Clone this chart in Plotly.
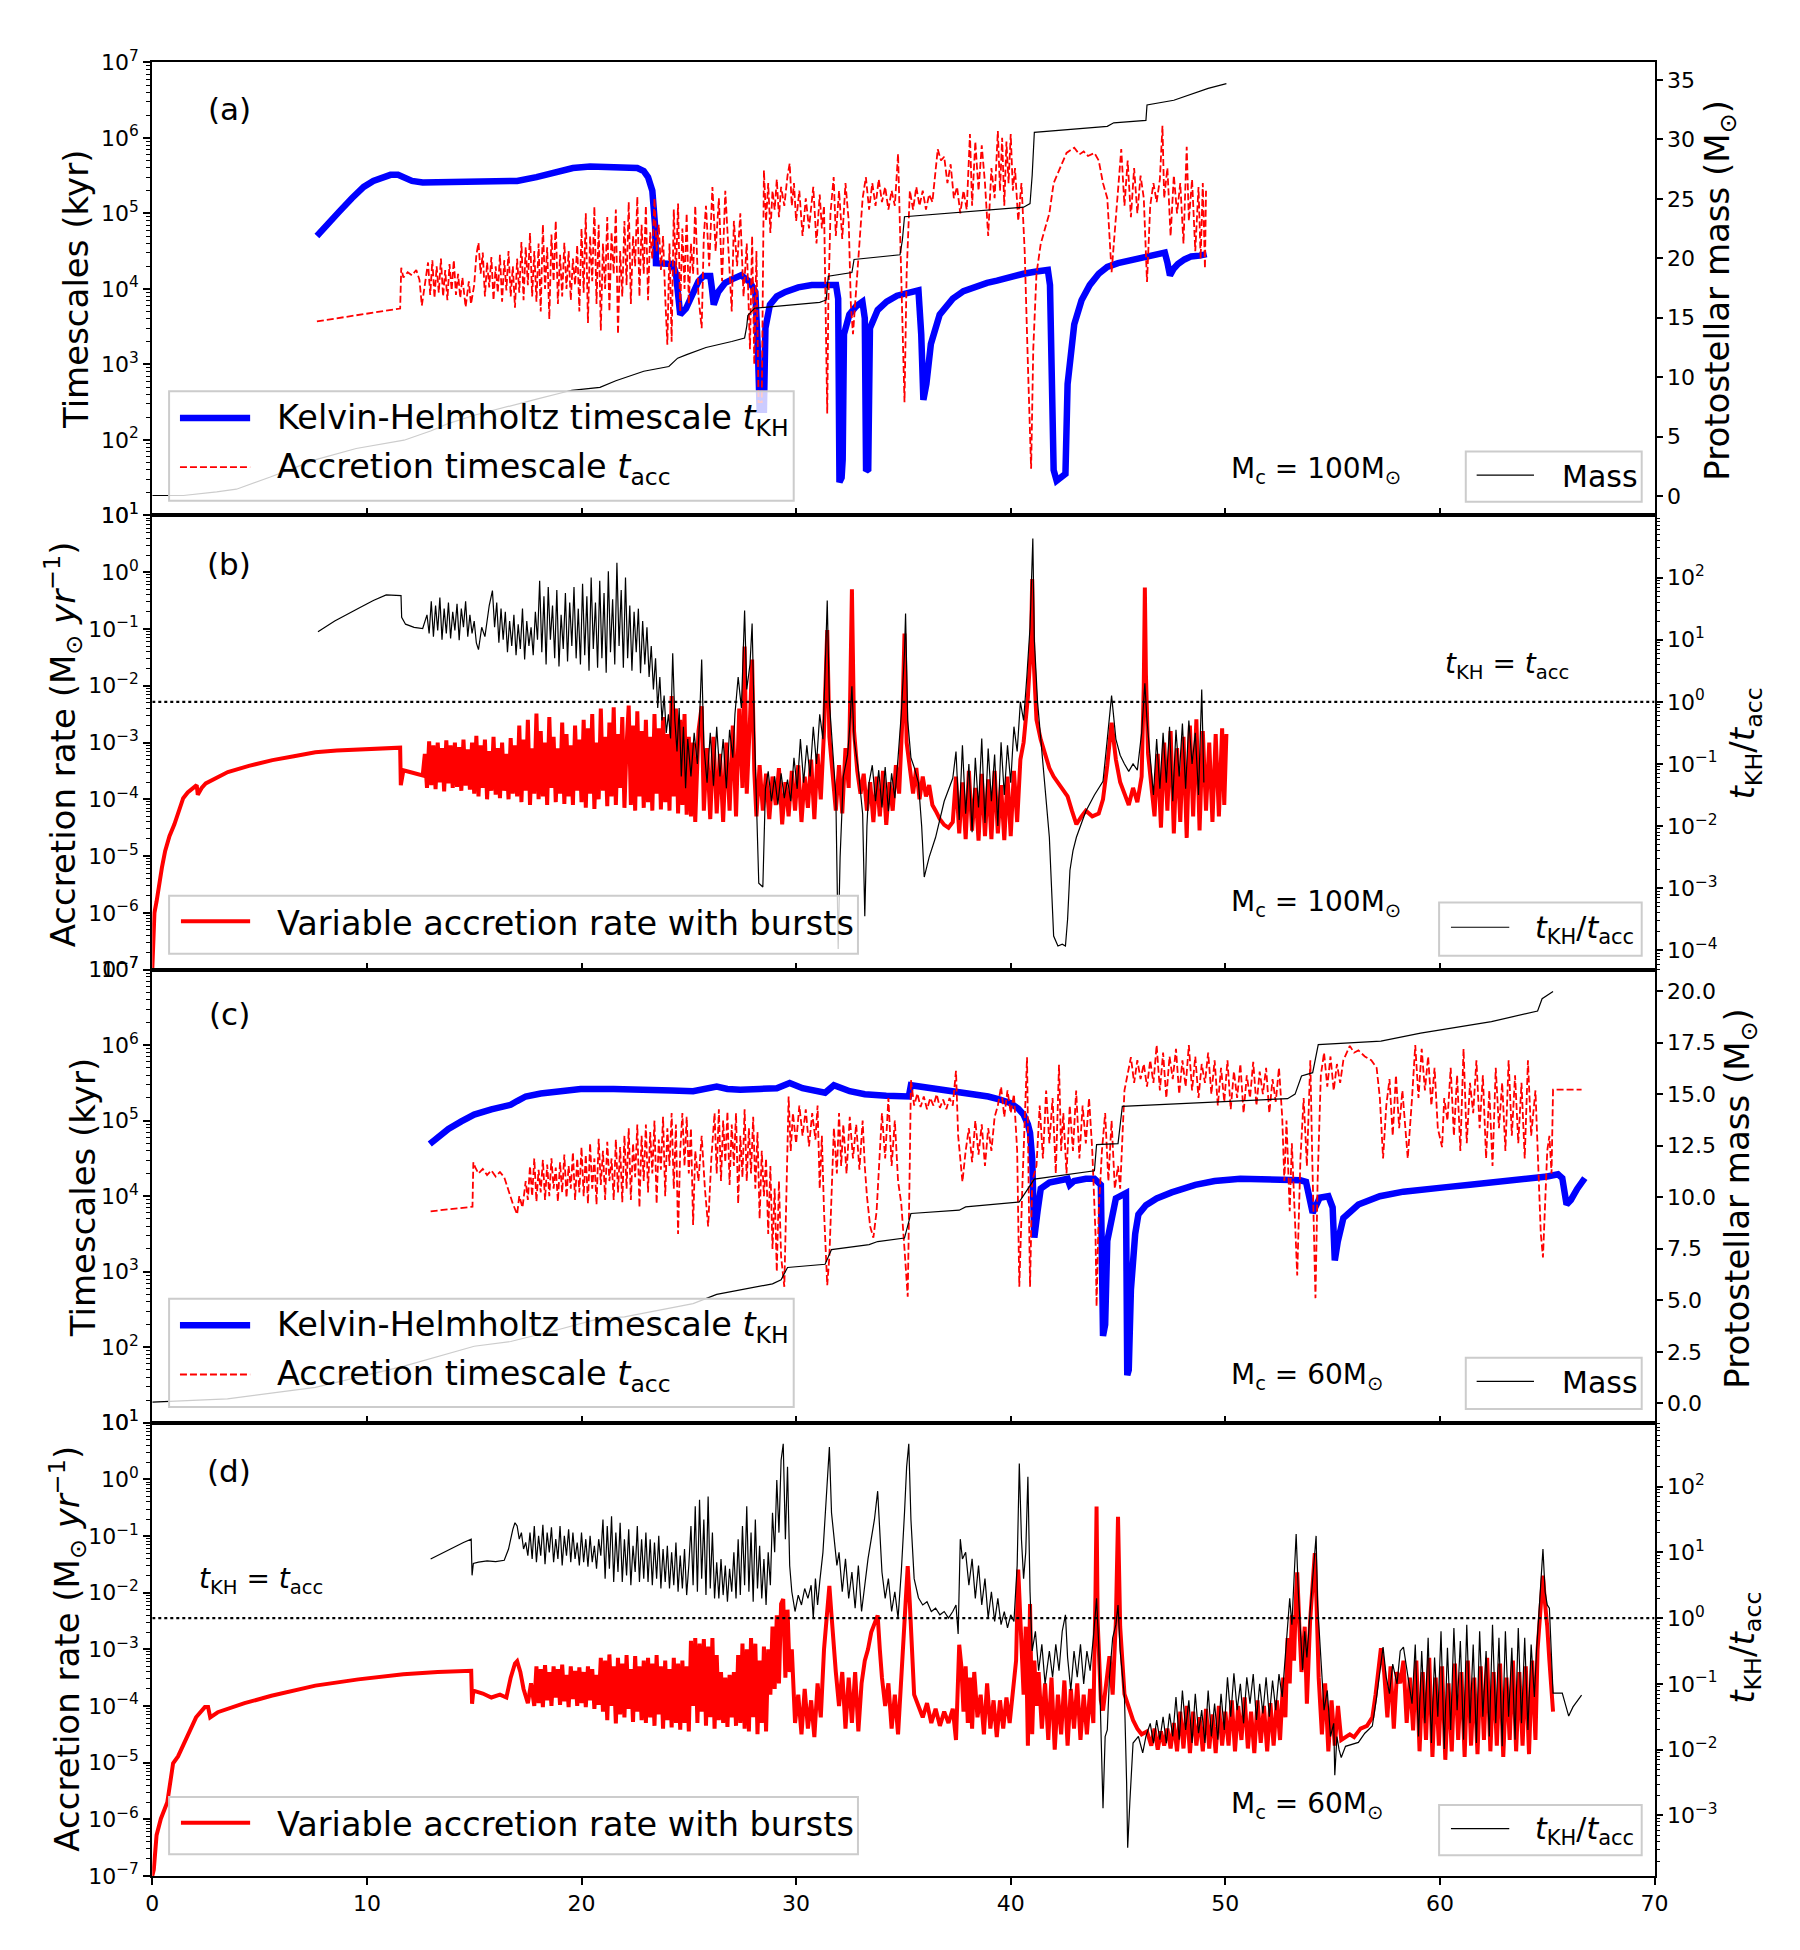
import numpy as np
import plotly.graph_objects as go

# ---------------- DATA (x in kyr; log-scale series stored as log10 of the value) ----------------
# Panel (a): M_c = 100 Msun
A_TKH_LOG = [(7.67,4.70),(8.2,4.88),(8.7,5.02),(9.3,5.20),(9.85,5.35),(10.3,5.43),(10.7,5.48),(11.1,5.51),(11.45,5.51),(11.8,5.47),(12.1,5.43),(12.6,5.41),(13.0,5.41),(14.0,5.41),(15.0,5.42),(16.0,5.42),(17.0,5.43),(17.9,5.48),(18.8,5.55),(19.6,5.60),(20.4,5.62),(21.3,5.62),(22.2,5.62),(22.6,5.60),(22.9,5.56),(23.1,5.48),(23.3,5.30),(23.37,5.10),(23.43,4.83),(23.47,4.34),(24.25,4.33),(24.4,4.20),(24.5,3.90),(24.6,3.66),(24.87,3.74),(25.18,3.96),(25.45,4.10),(25.69,4.17),(26.0,4.17),(26.08,4.00),(26.16,3.79),(26.37,3.96),(26.7,4.08),(27.03,4.13),(27.44,4.18),(27.85,4.09),(28.1,3.96),(28.22,3.18),(28.3,2.40),(28.5,2.40),(28.57,3.48),(28.78,3.79),(29.1,3.90),(29.5,3.96),(30.1,4.02),(30.73,4.05),(31.3,4.06),(31.86,4.05),(31.96,3.87),(32.02,1.44),(32.12,1.50),(32.17,1.74),(32.23,3.40),(32.48,3.66),(32.8,3.77),(33.09,3.83),(33.2,3.61),(33.26,1.59),(33.36,1.61),(33.44,3.48),(33.8,3.72),(34.22,3.83),(34.7,3.91),(35.25,3.96),(35.7,3.98),(35.83,3.40),(35.93,2.53),(36.07,2.74),(36.28,3.27),(36.69,3.66),(37.3,3.87),(37.8,3.97),(38.34,4.03),(38.9,4.08),(39.36,4.11),(40.0,4.16),(40.6,4.20),(41.2,4.23),(41.73,4.25),(41.83,4.05),(41.93,2.31),(42.0,1.60),(42.14,1.46),(42.35,1.50),(42.55,1.55),(42.65,2.74),(42.8,3.20),(42.96,3.53),(43.3,3.85),(43.68,4.05),(44.1,4.20),(44.5,4.29),(45.0,4.34),(45.53,4.37),(46.15,4.42),(46.7,4.45),(47.18,4.48),(47.3,4.35),(47.42,4.18),(47.6,4.27),(47.79,4.33),(48.1,4.39),(48.41,4.43),(48.8,4.44),(49.13,4.46)]

A_TACC_LOG = [(7.67,3.57),(9.5,3.65),(11.55,3.74),(11.6,4.28),(11.7,4.15),(11.9,4.22),(12.1,4.18),(12.3,4.25),(12.45,4.12),(12.56,3.78),(12.7,4.05),
(12.85,4.35),(12.95,3.92),(13.05,4.38),(13.15,3.88),(13.25,4.30),(13.35,3.95),(13.45,4.40),(13.55,3.90),(13.65,4.25),(13.75,3.85),(13.85,4.33),(13.95,3.98),(14.05,4.38),(14.15,3.92),(14.25,4.20),(14.35,3.88),(14.45,4.15),(14.6,3.76),(14.75,4.10),(14.85,3.80),(15.0,4.05),(15.1,4.45),(15.2,4.61),(15.3,4.20),(15.4,4.48),(15.5,3.90),(15.6,4.35),(15.7,4.02),(15.8,4.42),(15.9,3.85),(16.0,4.30),(16.1,3.95),(16.2,4.45),(16.3,3.83),(16.4,4.38),(16.5,3.98),(16.6,4.50),(16.7,3.90),(16.8,4.30),(16.9,3.75),
(17.0,4.40),(17.1,3.95),(17.2,4.62),(17.3,3.85),(17.4,4.55),(17.5,4.05),(17.6,4.74),(17.7,3.90),(17.8,4.50),(17.9,3.83),
(18.0,4.60),(18.1,3.70),(18.2,4.85),(18.3,4.00),(18.4,4.55),(18.5,3.60),(18.6,4.72),(18.7,4.10),(18.8,4.90),(18.9,3.80),(19.0,4.45),(19.1,3.90),
(19.2,4.61),(19.3,4.00),(19.4,4.50),(19.5,3.85),(19.6,4.40),(19.7,4.05),(19.8,4.58),(19.9,3.70),
(20.0,4.80),(20.1,3.95),(20.2,5.00),(20.3,3.55),(20.4,4.70),(20.5,4.10),(20.6,5.09),(20.7,3.80),(20.8,4.85),(20.9,3.45),(21.0,4.60),(21.1,4.00),(21.2,4.95),(21.3,3.70),(21.4,4.75),(21.5,4.20),(21.6,5.05),(21.7,3.40),(21.8,4.50),(21.9,3.90),(22.0,4.90),
(22.1,4.05),(22.2,5.15),(22.3,3.80),(22.4,4.70),(22.5,4.30),(22.6,5.22),(22.7,3.90),(22.8,4.85),(22.9,4.20),(23.0,5.10),(23.1,3.85),(23.2,4.75),(23.3,4.40),(23.4,5.20),
(23.5,4.50),(23.6,4.85),(23.7,4.25),(23.8,4.70),(23.9,3.90),(24.0,3.26),(24.1,4.60),(24.2,3.30),(24.3,5.05),
(24.4,4.20),(24.5,5.13),(24.6,3.70),(24.7,4.80),(24.8,4.00),(24.9,5.00),(25.0,3.80),(25.1,4.60),(25.2,4.20),(25.3,5.10),(25.45,3.90),(25.6,3.48),(25.7,4.70),
(25.8,5.10),(25.95,4.30),(26.1,5.35),(26.25,4.50),(26.4,5.20),(26.55,4.10),(26.7,5.30),(26.85,4.40),(27.0,3.70),(27.1,4.90),(27.25,4.30),(27.4,5.00),
(27.55,3.90),(27.7,4.60),(27.85,3.20),(27.95,4.70),(28.05,3.00),(28.15,4.50),(28.25,2.50),(28.4,2.50),(28.5,5.57),
(28.6,4.90),(28.7,5.40),(28.8,4.74),(28.9,5.30),(29.0,5.05),(29.1,5.45),(29.2,4.95),(29.3,5.35),(29.45,5.10),(29.6,5.50),(29.7,5.66),
(29.8,5.10),(29.9,5.40),(30.0,4.90),(30.15,5.30),(30.3,4.70),(30.45,5.20),(30.6,4.80),(30.8,5.35),(30.95,4.60),(31.1,5.25),(31.2,4.80),(31.3,5.10),(31.4,3.50),(31.45,2.35),(31.5,3.80),
(31.6,5.00),(31.75,5.48),(31.85,4.70),(32.0,5.30),(32.15,4.66),(32.3,5.40),(32.45,4.90),(32.55,3.80),(32.65,3.40),(32.8,4.00),(32.95,4.60),
(33.1,5.20),(33.25,5.48),(33.4,5.05),(33.55,5.40),(33.7,5.10),(33.85,5.45),(34.0,5.15),(34.15,5.35),(34.3,5.05),(34.45,5.30),(34.6,5.10),(34.75,5.79),(34.85,4.60),(34.95,3.50),(35.05,2.50),(35.15,4.20),
(35.3,5.30),(35.45,5.05),(35.6,5.35),(35.75,5.10),(35.9,5.30),(36.05,5.05),(36.2,5.25),(36.35,5.15),(36.5,5.60),(36.6,5.85),(36.75,5.70),(36.9,5.75),(37.05,5.40),(37.2,5.65),(37.35,5.20),
(37.5,5.35),(37.65,5.00),(37.8,5.30),(37.95,5.05),(38.1,6.05),(38.2,5.10),(38.35,5.95),(38.5,5.30),(38.65,5.90),(38.8,5.40),(38.95,4.70),(39.1,5.60),(39.25,5.20),
(39.4,6.09),(39.5,5.30),(39.6,6.00),(39.7,5.10),(39.8,5.95),(39.9,5.40),(40.0,6.05),(40.1,5.30),(40.2,5.60),(40.35,4.90),(40.5,5.40),(40.65,4.50),(40.8,3.00),(40.95,1.62),(41.05,3.20),(41.2,4.20),(41.4,4.60),(41.6,4.80),(41.8,5.00),
(42.0,5.40),(42.3,5.60),(42.6,5.80),(42.96,5.87),(43.2,5.78),(43.4,5.82),(43.6,5.76),(43.9,5.80),(44.1,5.70),(44.3,5.40),(44.5,5.20),(44.7,4.22),(44.85,4.80),
(45.0,5.30),(45.15,5.85),(45.3,5.10),(45.45,5.70),(45.6,4.95),(45.75,5.60),(45.9,5.00),(46.05,5.50),(46.2,5.20),(46.35,4.09),(46.5,5.10),(46.65,5.40),(46.8,5.15),(46.95,5.45),(47.07,6.16),(47.15,5.20),
(47.3,5.60),(47.45,4.70),(47.6,5.50),(47.75,5.00),(47.9,5.40),(48.05,4.60),(48.2,5.88),(48.3,4.90),(48.45,5.45),(48.6,4.50),(48.75,5.35),(48.85,4.40),(48.95,5.40),(49.05,4.27),(49.1,5.30)]

A_MASS = [(0.0,0.05),(1.45,0.05),(3.0,0.35),(3.92,0.58),(5.5,1.6),(7.62,3.07),(9.5,4.0),(11.73,4.7),(13.0,5.5),(13.79,6.1),(15.0,6.8),(16.46,7.5),(18.0,8.2),(19.55,8.9),(20.86,9.15),(21.6,9.7),(22.9,10.5),(24.07,10.9),(24.48,11.6),(24.9,11.9),(25.8,12.5),(27.0,13.0),(27.6,13.3),(27.7,14.3),(27.75,15.2),(28.06,15.8),(31.1,16.3),(31.4,16.5),(31.5,18.5),(32.6,18.8),(32.7,19.9),(34.84,20.3),(34.95,21.5),(35.05,23.5),(38.0,23.9),(40.6,24.3),(40.9,24.6),(41.0,27.0),(41.1,30.6),(44.5,31.1),(44.8,31.4),(46.3,31.6),(46.35,32.9),(47.6,33.3),(49.2,34.3),(50.05,34.7)]

# Panel (b): accretion rate (Msun/yr) and t_KH/t_acc, M_c = 100 Msun
B_RATE_LOG = [(0.0,-7.0),(0.05,-6.6),(0.1,-6.0),(0.2,-5.8),(0.3,-5.54),(0.45,-5.2),(0.6,-4.91),(0.8,-4.65),(1.03,-4.44),(1.25,-4.2),(1.44,-3.98),(1.65,-3.88),(1.86,-3.81),(2.07,-3.75),(2.12,-3.92),(2.3,-3.80),(2.49,-3.72),(3.0,-3.62),(3.52,-3.52),(4.5,-3.41),(5.6,-3.31),(6.6,-3.24),(7.6,-3.17),(8.6,-3.14),(9.6,-3.12),(10.6,-3.10),(11.55,-3.09),(11.58,-3.75),(11.7,-3.49),(12.0,-3.52),(12.3,-3.55),(12.6,-3.58),
(12.7,-3.20),(12.8,-3.80),(12.9,-2.98),(13.0,-3.75),(13.1,-3.05),(13.2,-3.82),(13.3,-3.00),(13.4,-3.70),(13.5,-3.10),(13.6,-3.86),(13.7,-2.96),(13.8,-3.72),(13.9,-3.05),(14.0,-3.80),(14.1,-3.00),(14.2,-3.78),(14.3,-3.08),(14.4,-3.85),(14.5,-2.95),(14.6,-3.76),(14.7,-3.12),(14.8,-3.83),(14.9,-3.00),(15.0,-3.90),
(15.1,-2.88),(15.2,-3.95),(15.3,-3.05),(15.4,-3.80),(15.5,-2.95),(15.6,-4.00),(15.7,-3.15),(15.8,-3.85),(15.9,-2.90),(16.0,-3.92),(16.1,-3.10),(16.2,-3.98),(16.3,-3.00),(16.4,-3.85),(16.5,-3.20),(16.6,-4.00),(16.7,-2.92),(16.8,-3.90),(16.9,-3.05),
(17.0,-3.95),(17.1,-2.70),(17.2,-4.05),(17.3,-2.95),(17.4,-3.85),(17.5,-2.60),(17.6,-4.10),(17.7,-3.10),(17.8,-3.90),(17.9,-2.49),(18.0,-4.00),(18.1,-2.80),(18.2,-3.95),(18.3,-3.00),(18.4,-4.10),(18.5,-2.55),(18.6,-3.80),(18.7,-2.90),(18.8,-4.05),(18.9,-3.10),(19.0,-3.90),(19.1,-2.65),(19.2,-4.08),(19.3,-2.85),(19.4,-3.95),(19.5,-3.05),(19.6,-4.10),(19.7,-2.70),(19.8,-3.85),(19.9,-2.95),(20.0,-4.05),(20.1,-2.60),
(20.2,-4.15),(20.3,-2.75),(20.4,-3.90),(20.5,-2.50),(20.6,-4.17),(20.7,-3.00),(20.8,-4.00),(20.9,-2.40),(21.0,-3.85),(21.1,-2.90),(21.2,-4.12),(21.3,-2.65),(21.4,-3.95),(21.5,-2.38),(21.6,-4.10),(21.7,-2.85),(21.8,-3.80),(21.9,-2.55),(22.0,-4.15),(22.1,-3.05),
(22.2,-2.35),(22.3,-4.10),(22.4,-2.70),(22.5,-4.20),(22.6,-2.45),(22.7,-3.95),(22.8,-2.80),(22.9,-4.15),(23.0,-2.60),(23.1,-4.05),(23.2,-2.90),(23.3,-4.20),(23.4,-2.50),(23.5,-3.90),(23.6,-2.75),(23.7,-4.18),(23.8,-2.55),(23.9,-4.05),(24.0,-2.85),(24.1,-4.20),(24.2,-2.18),(24.3,-3.95),
(24.4,-2.40),(24.5,-4.25),(24.6,-2.60),(24.7,-4.10),(24.8,-2.50),(24.9,-4.27),(25.0,-2.90),
(25.1,-4.30),(25.2,-3.00),(25.3,-4.40),(25.45,-2.80),(25.6,-2.36),(25.7,-4.20),(25.85,-3.10),(26.0,-4.35),(26.15,-2.90),(26.3,-4.25),(26.45,-3.20),(26.6,-4.40),(26.75,-3.00),(26.9,-4.20),(27.05,-2.70),(27.2,-4.30),(27.35,-2.40),(27.5,-3.80),(27.6,-1.31),(27.7,-3.90),(27.85,-2.60),(27.95,-1.54),(28.05,-3.50),(28.15,-4.30),
(28.3,-3.40),(28.45,-4.20),(28.6,-3.55),(28.75,-4.35),(28.9,-3.60),(29.05,-4.10),(29.2,-3.45),(29.35,-4.44),(29.5,-3.70),(29.65,-4.30),(29.8,-3.50),(29.95,-4.20),(30.1,-3.40),(30.25,-4.40),(30.4,-3.60),(30.55,-4.15),(30.7,-3.30),(30.85,-4.35),(31.0,-3.20),(31.15,-4.00),(31.3,-2.80),(31.45,-1.02),(31.55,-2.90),(31.7,-3.60),(31.85,-4.20),(32.0,-3.40),(32.15,-4.25),(32.3,-3.10),(32.45,-3.80),(32.6,-0.30),(32.7,-2.80),(32.85,-3.50),(33.0,-3.90),(33.15,-3.55),(33.3,-4.20),(33.45,-3.70),(33.6,-4.40),(33.75,-3.60),(33.9,-4.30),(34.05,-3.50),(34.2,-4.45),(34.35,-3.70),(34.5,-4.20),(34.65,-3.40),(34.8,-3.90),(34.95,-2.60),(35.05,-1.08),(35.15,-3.00),(35.3,-3.50),(35.45,-3.90),(35.6,-3.45),(35.75,-4.00),(35.9,-3.60),(36.05,-3.95),(36.2,-3.75),(36.35,-4.10),(36.5,-4.20),(36.7,-4.35),(36.9,-4.45),(37.1,-4.50),(37.3,-4.40),
(37.45,-3.60),(37.6,-4.60),(37.75,-3.70),(37.9,-4.70),(38.05,-3.50),(38.2,-4.55),(38.35,-3.80),(38.5,-4.73),(38.65,-3.55),(38.8,-4.65),(38.95,-3.65),(39.1,-4.70),(39.25,-3.50),(39.4,-4.60),(39.55,-3.75),(39.7,-4.72),(39.85,-3.60),(40.0,-4.65),(40.15,-3.50),(40.3,-4.40),(40.45,-3.30),(40.6,-3.00),(40.8,-2.20),(40.95,-1.20),(41.0,-0.12),(41.05,-1.40),(41.2,-2.60),(41.4,-2.95),(41.6,-3.20),(41.8,-3.45),(42.0,-3.60),(42.3,-3.75),(42.65,-3.95),(42.85,-4.20),(43.06,-4.44),(43.3,-4.30),(43.5,-4.20),(43.8,-4.30),(44.1,-4.25),(44.3,-4.00),(44.5,-3.40),(44.7,-2.65),(44.9,-3.30),(45.1,-3.70),(45.3,-3.90),(45.5,-4.10),(45.7,-3.80),(45.9,-4.05),(46.1,-3.60),(46.2,-2.00),(46.25,-0.27),(46.3,-1.80),(46.4,-3.20),
(46.55,-3.80),(46.7,-4.30),(46.85,-3.20),(47.0,-4.50),(47.15,-3.00),(47.3,-4.20),(47.45,-2.80),(47.6,-4.60),(47.75,-3.10),(47.9,-4.40),(48.05,-2.90),(48.2,-4.68),(48.35,-2.70),(48.5,-4.30),(48.65,-2.59),(48.8,-4.55),(48.95,-2.80),(49.1,-4.20),(49.25,-3.00),(49.4,-4.40),(49.55,-2.85),(49.7,-4.30),(49.85,-2.75),(49.95,-4.10),(50.05,-2.85)]

B_RATIO_LOG = [(7.72,1.13),(8.5,1.30),(9.68,1.52),(10.3,1.63),(10.9,1.72),(11.59,1.71),(11.62,1.36),(11.8,1.25),(12.2,1.20),(12.6,1.18),
(12.8,1.40),(12.9,1.10),(13.0,1.62),(13.1,1.05),(13.2,1.55),(13.3,1.15),(13.4,1.68),(13.5,1.00),(13.6,1.50),(13.7,1.10),(13.8,1.60),(13.9,1.02),(14.0,1.45),(14.1,1.15),(14.2,1.58),(14.3,0.99),(14.4,1.50),(14.5,1.20),(14.6,1.62),(14.7,1.05),(14.8,1.40),(14.9,1.10),(15.0,1.30),(15.1,0.95),(15.2,0.84),(15.35,1.20),(15.5,1.05),(15.7,1.55),(15.85,1.79),(15.95,1.20),
(16.05,1.60),(16.15,0.95),(16.25,1.50),(16.35,1.00),(16.45,1.45),(16.55,0.80),(16.65,1.30),(16.75,0.90),(16.85,1.40),(16.95,0.75),(17.05,1.25),(17.15,0.85),(17.25,1.50),(17.35,0.68),(17.45,1.30),(17.55,0.90),(17.65,1.20),(17.75,0.75),(17.85,1.45),(17.95,1.00),
(18.05,1.95),(18.15,0.80),(18.25,1.70),(18.35,0.60),(18.45,1.85),(18.55,1.00),(18.65,1.55),(18.75,0.70),(18.85,1.80),(18.95,0.57),(19.05,1.40),(19.15,0.85),(19.25,1.75),(19.35,0.65),(19.45,1.60),(19.55,0.90),(19.65,1.85),(19.75,0.70),(19.85,1.50),(19.95,0.60),
(20.05,1.90),(20.15,0.75),(20.25,1.70),(20.35,0.50),(20.45,2.00),(20.55,0.85),(20.65,1.60),(20.75,0.55),(20.85,1.95),(20.95,0.70),(21.05,1.75),(21.15,0.47),(21.25,2.10),(21.35,0.80),(21.45,1.65),(21.55,0.60),(21.65,2.24),(21.75,0.90),(21.85,1.80),(21.95,0.55),(22.05,2.00),
(22.15,0.70),(22.25,1.55),(22.35,0.50),(22.45,1.45),(22.55,0.80),(22.65,1.50),(22.75,0.46),(22.85,1.30),(22.95,0.60),(23.05,1.20),(23.15,0.40),
(23.25,0.90),(23.35,0.20),(23.45,0.70),(23.55,-0.10),(23.65,0.40),(23.75,-0.30),(23.85,0.10),(23.95,-0.50),(24.05,-0.20),(24.15,-0.59),(24.25,0.78),(24.35,-0.30),
(24.45,-0.80),(24.55,-0.10),(24.65,-1.20),(24.75,-0.40),(24.85,-1.39),(24.95,-0.60),(25.1,-1.20),(25.25,-0.50),(25.4,-1.00),(25.5,-0.30),(25.6,0.68),(25.7,-0.70),
(25.85,-1.30),(26.0,-0.50),(26.15,-1.35),(26.3,-0.40),(26.45,-1.20),(26.6,-0.60),(26.75,-1.39),(26.9,-0.45),(27.05,-0.90),(27.15,-0.20),(27.3,0.40),(27.45,-0.10),(27.6,1.47),(27.7,0.20),(27.85,0.60),(27.95,1.26),(28.06,-0.50),(28.15,-1.80),(28.26,-2.92),(28.45,-2.98),(28.57,-1.40),
(28.7,-1.12),(28.85,-1.60),(29.0,-1.20),(29.15,-1.65),(29.3,-1.15),(29.45,-1.55),(29.6,-1.25),(29.75,-1.60),(29.9,-0.90),
(30.05,-1.40),(30.2,-0.60),(30.35,-1.30),(30.5,-0.70),(30.65,-1.20),(30.8,-0.40),(30.95,-1.00),(31.1,-0.20),(31.25,-0.60),(31.35,0.50),(31.45,1.63),(31.55,0.00),(31.7,-0.80),(31.85,-1.50),(31.96,-3.98),(32.05,-2.50),(32.2,-1.20),(32.4,-0.85),(32.5,-0.40),(32.6,0.25),(32.7,-0.60),(32.9,-1.10),(33.1,-1.80),(33.2,-3.45),(33.3,-2.00),(33.4,-1.30),
(33.55,-1.02),(33.7,-1.60),(33.85,-1.10),(34.0,-1.70),(34.15,-1.05),(34.3,-1.76),(34.45,-1.15),(34.6,-1.55),(34.75,-0.90),(34.9,-0.20),(35.05,0.80),(35.1,1.42),(35.2,-0.30),(35.35,-0.90),(35.5,-1.05),(35.7,-1.30),(35.85,-2.00),(35.97,-2.82),(36.2,-2.50),(36.5,-2.18),(36.9,-1.60),(37.3,-1.23),
(37.45,-0.80),(37.6,-1.90),(37.75,-0.70),(37.9,-1.80),(38.05,-1.00),(38.2,-2.10),(38.35,-0.90),(38.5,-1.70),(38.65,-0.59),(38.8,-1.95),(38.95,-0.75),(39.1,-1.60),(39.25,-0.85),(39.4,-2.00),(39.55,-0.65),(39.7,-1.50),(39.85,-0.70),(40.0,-1.30),(40.15,-0.40),(40.3,-0.80),(40.45,0.00),(40.6,-0.30),(40.75,0.40),(40.9,1.20),(41.03,2.63),(41.1,1.00),(41.25,0.00),(41.4,-0.59),(41.6,-1.40),(41.8,-2.18),(42.0,-3.77),(42.2,-3.93),(42.4,-3.90),(42.55,-3.93),(42.65,-3.50),(42.76,-2.71),(42.9,-2.40),(43.06,-2.18),(43.3,-1.95),(43.5,-1.76),(43.9,-1.50),(44.3,-1.28),(44.5,-0.60),(44.7,0.10),(44.9,-0.60),(45.1,-0.86),(45.3,-1.00),(45.5,-1.12),(45.7,-1.00),(45.9,-1.10),(46.1,-0.50),(46.25,0.30),(46.35,-0.30),(46.5,-0.90),
(46.65,-1.50),(46.8,-0.60),(46.95,-1.40),(47.1,-0.50),(47.25,-1.30),(47.4,-0.40),(47.55,-1.60),(47.7,-0.45),(47.85,-1.20),(48.0,-0.35),(48.15,-1.40),(48.3,-0.30),(48.45,-1.00),(48.6,-0.50),(48.75,-1.50),(48.9,0.20),(49.0,-1.30)]

# Panel (c): M_c = 60 Msun
C_TKH_LOG = [(12.93,4.69),(13.4,4.80),(13.8,4.89),(14.4,4.99),(15.0,5.08),(15.8,5.15),(16.7,5.21),(17.0,5.26),(17.4,5.32),(18.1,5.36),(18.9,5.39),(19.96,5.42),(21.5,5.42),(23.04,5.42),(24.2,5.40),(25.2,5.39),(25.8,5.42),(26.3,5.45),(26.8,5.42),(27.4,5.41),(28.3,5.42),(29.1,5.43),(29.7,5.50),(30.3,5.43),(31.35,5.37),(31.76,5.47),(32.5,5.39),(33.2,5.35),(34.2,5.33),(35.25,5.32),(35.35,5.47),(36.3,5.43),(37.3,5.39),(38.2,5.36),(38.95,5.32),(39.5,5.28),(40.0,5.23),(40.35,5.16),(40.6,5.08),(40.8,4.95),(40.9,4.84),(41.0,4.50),(41.1,3.45),(41.25,3.80),(41.4,4.10),(41.8,4.18),(42.45,4.23),(42.65,4.23),(42.75,4.15),(42.95,4.20),(43.5,4.23),(43.9,4.23),(44.2,4.15),(44.3,2.15),(44.4,2.30),(44.5,3.41),(44.9,3.97),(45.37,4.04),(45.43,1.63),(45.5,1.70),(45.6,2.76),(45.8,3.50),(45.95,3.76),(46.3,3.88),(46.8,3.97),(47.5,4.05),(48.6,4.15),(49.5,4.20),(50.7,4.23),(52.0,4.23),(52.9,4.23),(53.5,4.21),(53.76,4.19),(53.9,4.00),(54.07,3.78),(54.4,3.98),(54.8,4.00),(55.0,3.85),(55.1,3.15),(55.24,3.40),(55.5,3.71),(56.2,3.89),(57.2,4.00),(58.3,4.06),(59.3,4.08),(60.3,4.12),(61.4,4.15),(62.4,4.18),(63.4,4.20),(64.45,4.23),(65.0,4.26),(65.5,4.29),(65.7,4.24),(65.9,3.89),(66.1,3.95),(66.4,4.10),(66.75,4.24)]

C_TACC_LOG = [(12.97,3.80),(14.0,3.83),(14.92,3.86),(14.96,4.45),(15.05,4.38),(15.2,4.30),(15.4,4.36),(15.6,4.28),(15.8,4.34),(16.0,4.26),(16.2,4.32),(16.4,4.25),(16.57,4.10),(16.8,3.90),(17.0,3.76),(17.1,4.00),(17.25,3.85),
(17.4,4.20),(17.5,3.95),(17.6,4.40),(17.7,4.00),(17.8,4.50),(17.9,3.93),(18.0,4.35),(18.1,4.05),(18.2,4.48),(18.3,3.95),(18.4,4.42),(18.5,4.00),(18.6,4.50),(18.7,4.10),(18.8,4.38),(18.9,3.93),(19.0,4.45),(19.1,4.05),(19.2,4.55),(19.3,3.98),(19.4,4.40),(19.5,4.10),(19.6,4.58),(19.7,3.95),(19.8,4.50),(19.9,4.05),
(20.0,4.65),(20.1,4.00),(20.2,4.55),(20.3,3.90),(20.4,4.70),(20.5,4.10),(20.6,4.50),(20.7,3.89),(20.8,4.76),(20.9,4.15),(21.0,4.60),(21.1,3.95),(21.2,4.72),(21.3,4.20),(21.4,4.50),(21.5,3.95),(21.6,4.75),(21.7,4.05),(21.8,4.65),(21.9,3.92),
(22.0,4.80),(22.1,4.10),(22.2,4.90),(22.3,3.95),(22.4,4.70),(22.5,4.25),(22.6,4.95),(22.7,3.85),(22.8,4.80),(22.9,4.20),(23.0,4.95),(23.1,4.05),(23.2,4.85),(23.3,4.30),(23.4,5.00),(23.5,3.90),(23.6,4.75),(23.7,4.35),(23.8,5.05),(23.9,4.00),(24.0,4.90),(24.1,4.40),(24.2,5.10),(24.3,4.10),(24.4,4.95),(24.5,3.50),(24.6,4.60),
(24.7,5.10),(24.8,4.40),(24.9,5.05),(25.0,4.30),(25.1,4.90),(25.2,3.62),(25.3,4.60),(25.45,4.20),(25.6,4.80),(25.75,4.10),(25.9,3.60),(26.05,4.50),
(26.2,5.10),(26.3,4.30),(26.4,5.15),(26.5,4.20),(26.6,5.00),(26.7,4.45),(26.8,5.12),(26.9,4.15),(27.0,4.95),(27.1,4.40),(27.2,5.10),(27.3,3.90),(27.4,4.80),(27.5,4.25),(27.6,5.15),(27.7,4.20),(27.8,4.90),(27.9,4.30),(28.0,5.05),(28.1,4.10),(28.2,4.85),(28.3,3.70),(28.4,4.60),(28.5,4.00),(28.6,4.50),(28.7,3.50),(28.8,4.40),(28.9,3.30),(29.0,4.10),(29.1,3.00),(29.2,4.20),(29.3,3.20),(29.45,2.80),(29.55,4.00),(29.65,5.32),(29.75,4.60),(29.85,5.10),
(30.0,4.70),(30.15,5.20),(30.3,4.80),(30.45,5.15),(30.6,4.66),(30.75,5.10),(30.9,4.75),(31.0,5.20),(31.1,4.10),(31.2,4.80),(31.3,3.80),(31.45,2.82),(31.55,3.20),(31.65,3.90),(31.76,4.90),
(31.9,4.30),(32.0,5.10),(32.1,4.40),(32.2,4.95),(32.35,4.30),(32.5,5.05),(32.65,4.50),(32.8,4.95),(32.95,4.35),(33.1,5.00),(33.2,4.40),(33.3,4.00),(33.45,3.60),(33.6,3.45),(33.75,3.80),(33.85,4.40),(34.0,5.10),(34.15,4.50),(34.3,5.30),(34.45,4.40),(34.6,5.00),(34.75,4.20),(34.9,3.90),(35.05,3.30),(35.2,2.67),(35.3,4.50),(35.35,5.54),
(35.5,5.20),(35.65,5.36),(35.8,5.18),(35.95,5.32),(36.1,5.15),(36.25,5.30),(36.4,5.20),(36.55,5.35),(36.7,5.17),(36.85,5.28),(37.0,5.15),(37.15,5.30),(37.3,5.20),(37.45,5.66),(37.55,4.80),(37.65,4.50),(37.75,4.19),(37.9,4.60),
(38.05,4.90),(38.2,4.45),(38.35,5.00),(38.5,4.55),(38.65,4.95),(38.8,4.40),(38.95,4.90),(39.1,4.60),(39.25,5.05),
(39.4,5.20),(39.55,5.45),(39.7,5.05),(39.85,5.40),(40.0,5.10),(40.15,5.35),(40.3,4.60),(40.4,2.80),(40.55,4.20),(40.76,5.84),(40.85,3.80),(40.9,2.80),(41.0,4.20),
(41.2,4.40),(41.35,5.20),(41.5,4.50),(41.65,5.40),(41.8,4.70),(41.95,5.30),(42.1,4.30),(42.25,5.74),(42.35,4.60),(42.45,5.10),(42.6,4.30),(42.75,5.20),(42.9,4.60),(43.05,5.40),(43.2,4.50),(43.35,5.20),(43.5,4.70),(43.65,5.30),(43.8,4.60),(43.95,3.50),(44.0,2.54),(44.1,3.80),(44.25,4.60),(44.4,5.10),(44.55,4.20),(44.7,5.00),(44.85,4.10),(45.0,4.40),(45.1,4.10),(45.3,5.40),
(45.45,5.60),(45.6,5.84),(45.75,5.50),(45.9,5.80),(46.05,5.55),(46.2,5.75),(46.35,5.45),(46.5,5.80),
(46.65,5.50),(46.8,6.00),(46.95,5.40),(47.1,5.90),(47.25,5.30),(47.4,5.85),(47.55,5.55),(47.7,5.95),(47.85,5.35),(48.0,5.80),(48.15,5.45),(48.3,6.00),(48.45,5.40),(48.6,5.85),(48.75,5.30),(48.9,5.75),(49.05,5.50),(49.2,5.90),(49.35,5.35),(49.5,5.80),
(49.65,5.20),(49.8,5.70),(49.95,5.25),(50.1,5.80),(50.25,5.15),(50.4,5.65),(50.55,5.30),(50.7,5.75),(50.85,5.10),(51.0,5.60),(51.15,5.30),(51.3,5.78),(51.45,5.20),(51.6,5.65),(51.75,5.35),(51.9,5.70),(52.05,5.10),(52.2,5.55),(52.35,5.25),(52.5,5.70),(52.65,5.05),(52.75,4.20),(52.85,5.00),(53.0,3.80),(53.1,4.70),(53.25,3.60),(53.35,2.95),(53.5,4.50),(53.65,5.30),(53.8,4.40),(53.96,5.80),(54.05,4.50),(54.2,2.65),(54.3,4.20),
(54.45,5.60),(54.6,5.90),(54.75,5.45),(54.9,5.85),(55.05,5.40),(55.2,5.75),(55.35,5.50),(55.5,5.80),(55.8,5.99),(56.0,5.90),(56.2,5.93),(56.5,5.85),(56.8,5.80),(57.05,5.70),(57.2,5.30),(57.35,4.50),(57.5,5.20),
(57.65,5.55),(57.8,4.80),(57.95,5.60),(58.1,4.90),(58.25,5.40),(58.5,4.50),(58.7,5.30),
(58.85,6.00),(59.0,5.30),(59.15,5.95),(59.3,5.40),(59.45,5.85),(59.6,5.20),(59.75,5.70),(59.9,4.90),(60.1,4.65),(60.2,5.30),
(60.35,5.00),(60.5,5.70),(60.65,4.80),(60.8,5.60),(60.95,4.60),(61.1,5.95),(61.25,4.70),(61.4,5.50),(61.55,5.10),(61.7,5.80),(61.85,4.90),(62.0,5.60),(62.15,4.50),(62.3,5.40),(62.45,4.40),(62.6,5.70),(62.75,4.90),(62.9,5.50),(63.05,4.60),(63.2,5.80),(63.35,4.80),(63.5,5.60),(63.65,4.70),(63.8,5.50),(63.95,4.50),(64.1,5.80),(64.25,4.80),(64.45,5.40),(64.6,4.20),(64.7,3.50),(64.8,3.19),(64.9,3.80),(65.0,4.60),(65.1,4.80),(65.2,4.30),(65.27,5.41),(66.6,5.41)]

C_MASS = [(0.0,0.06),(3.5,0.22),(7.6,0.78),(11.73,1.81),(15.0,2.77),(16.7,3.0),(18.9,3.57),(20.86,4.12),(22.0,4.2),(25.2,4.84),(26.3,5.29),(28.9,5.8),(29.3,6.0),(29.6,6.59),(31.35,6.75),(31.65,7.46),(33.4,7.7),(33.8,7.85),(35.05,8.02),(35.35,9.21),(37.6,9.37),(37.9,9.53),(40.4,9.77),(40.8,10.4),(41.1,10.88),(43.9,11.28),(44.0,12.55),(45.0,12.6),(45.2,14.41),(52.9,14.78),(53.25,15.0),(53.55,15.88),(54.07,16.04),(54.33,17.4),(57.25,17.57),(59.1,17.96),(62.4,18.52),(64.55,19.03),(64.76,19.63),(65.27,19.98)]

# Panel (d): accretion rate (Msun/yr) and t_KH/t_acc, M_c = 60 Msun
D_RATE_LOG = [(0.0,-7.0),(0.07,-6.89),(0.2,-6.28),(0.4,-5.99),(0.7,-5.70),(0.85,-5.30),(0.97,-5.01),(1.2,-4.89),(1.63,-4.54),(2.04,-4.20),(2.45,-4.02),(2.6,-4.02),(2.7,-4.20),(3.05,-4.11),(4.3,-3.95),(5.55,-3.82),(7.6,-3.64),(9.6,-3.53),(11.7,-3.44),(13.3,-3.40),(14.86,-3.38),(14.9,-3.96),(14.96,-3.73),(15.4,-3.78),(15.8,-3.85),(16.2,-3.80),(16.5,-3.85),(16.7,-3.50),(16.9,-3.25),(17.0,-3.21),(17.15,-3.40),(17.3,-3.70),(17.5,-3.95),(17.65,-3.60),
(17.8,-4.00),(17.9,-3.30),(18.0,-3.95),(18.1,-3.35),(18.2,-4.02),(18.3,-3.28),(18.4,-3.90),(18.5,-3.40),(18.6,-4.00),(18.7,-3.30),(18.8,-3.85),(18.9,-3.35),(19.0,-3.98),(19.1,-3.27),(19.2,-3.92),(19.3,-3.45),(19.4,-4.02),(19.5,-3.30),(19.6,-3.88),(19.7,-3.38),(19.8,-4.00),(19.9,-3.32),(20.0,-3.95),(20.1,-3.40),(20.2,-4.02),(20.3,-3.30),(20.4,-3.90),(20.5,-3.35),(20.6,-4.05),(20.7,-3.45),(20.8,-3.98),
(20.9,-3.15),(21.0,-4.10),(21.1,-3.20),(21.2,-4.25),(21.3,-3.09),(21.4,-4.00),(21.5,-3.30),(21.6,-4.31),(21.7,-3.15),(21.8,-4.15),(21.9,-3.25),(22.0,-4.20),(22.1,-3.10),(22.2,-4.05),(22.3,-3.35),(22.4,-4.28),(22.5,-3.12),(22.6,-4.10),(22.7,-3.30),(22.8,-4.25),(22.9,-3.20),(23.0,-4.30),
(23.1,-3.15),(23.2,-4.20),(23.3,-3.25),(23.4,-4.35),(23.5,-3.10),(23.6,-4.15),(23.7,-3.30),(23.8,-4.40),(23.9,-3.20),(24.0,-4.25),(24.1,-3.35),(24.2,-4.38),(24.3,-3.15),(24.4,-4.30),(24.5,-3.25),(24.6,-4.42),(24.7,-3.20),(24.8,-4.30),(24.9,-3.30),(25.0,-4.45),
(25.1,-2.85),(25.2,-4.00),(25.3,-2.80),(25.4,-4.30),(25.5,-2.90),(25.6,-4.10),(25.7,-2.82),(25.8,-4.35),(25.9,-2.95),(26.0,-4.20),(26.1,-2.80),(26.2,-4.40),(26.3,-3.10),(26.4,-4.25),
(26.5,-3.40),(26.6,-4.30),(26.7,-3.50),(26.8,-4.37),(26.9,-3.45),(27.0,-4.20),(27.1,-3.40),(27.2,-4.35),
(27.3,-3.10),(27.4,-4.30),(27.5,-2.90),(27.6,-4.40),(27.7,-3.00),(27.8,-4.45),(27.9,-2.80),(28.0,-4.20),(28.1,-2.90),(28.2,-4.50),(28.3,-3.20),(28.4,-4.30),(28.5,-2.95),(28.6,-4.45),(28.7,-3.00),
(28.8,-3.80),(28.9,-2.60),(29.0,-3.70),(29.1,-2.40),(29.2,-3.60),(29.3,-2.20),(29.4,-2.11),(29.5,-3.50),(29.6,-2.30),(29.7,-3.40),(29.8,-3.00),
(29.95,-4.30),(30.1,-3.80),(30.25,-4.50),(30.4,-3.70),(30.55,-4.40),(30.7,-3.90),(30.85,-4.55),(31.0,-3.60),(31.15,-4.20),(31.3,-3.00),
(31.45,-2.20),(31.55,-1.88),(31.65,-2.40),(31.76,-3.00),(31.85,-3.40),
(32.0,-4.00),(32.15,-3.40),(32.3,-4.40),(32.45,-3.50),(32.6,-4.30),(32.75,-3.40),(32.9,-4.45),(33.05,-3.60),(33.2,-3.20),
(33.35,-3.00),(33.5,-2.70),(33.65,-2.55),(33.8,-2.40),(33.9,-3.00),(34.0,-3.50),(34.15,-4.00),(34.3,-3.60),(34.45,-4.40),(34.6,-3.80),(34.75,-4.50),(34.9,-3.50),(35.05,-2.50),(35.2,-1.53),(35.3,-2.20),(35.4,-3.20),(35.5,-3.80),
(35.7,-4.00),(35.9,-4.20),(36.1,-3.95),(36.3,-4.30),(36.5,-4.05),(36.7,-4.35),(36.9,-4.10),(37.1,-4.30),(37.3,-4.05),(37.45,-4.60),(37.6,-2.92),(37.7,-3.30),
(37.8,-4.10),(37.9,-3.30),(38.0,-4.30),(38.1,-3.50),(38.2,-4.40),(38.3,-3.40),(38.45,-4.20),(38.6,-3.80),(38.75,-4.50),(38.9,-3.60),(39.05,-4.40),(39.2,-3.90),(39.35,-4.55),
(39.5,-3.90),(39.65,-4.40),(39.8,-3.85),(39.95,-4.30),(40.1,-3.80),(40.25,-3.20),(40.35,-1.59),(40.45,-2.50),(40.6,-3.80),(40.7,-2.60),(40.8,-4.70),(40.9,-2.20),(41.0,-4.50),(41.1,-3.20),(41.2,-4.00),(41.3,-3.40),
(41.45,-4.40),(41.6,-3.60),(41.75,-4.60),(41.9,-3.50),(42.05,-4.77),(42.2,-3.80),(42.35,-4.50),(42.5,-3.55),(42.65,-4.70),(42.8,-3.70),(42.95,-4.40),(43.1,-3.60),(43.25,-4.60),(43.4,-3.80),(43.55,-4.50),(43.7,-3.70),(43.85,-4.30),(43.95,-2.00),(44.0,-0.48),(44.05,-2.50),(44.2,-3.90),(44.3,-4.08),(44.45,-3.60),(44.6,-3.12),(44.75,-3.80),(44.9,-2.50),(45.0,-0.66),(45.1,-2.60),(45.3,-3.79),(45.5,-4.00),(45.7,-4.25),(45.9,-4.40),
(46.1,-4.50),(46.35,-4.45),(46.55,-4.70),(46.7,-4.40),(46.85,-4.77),(47.0,-4.45),(47.15,-4.70),(47.3,-4.40),(47.45,-4.75),(47.6,-4.30),
(47.75,-4.80),(47.9,-4.10),(48.05,-4.75),(48.2,-4.00),(48.35,-4.83),(48.5,-4.10),(48.65,-4.70),(48.8,-4.20),(48.95,-4.80),(49.1,-4.05),(49.25,-4.75),(49.4,-4.15),(49.55,-4.83),(49.7,-4.00),(49.85,-4.70),(50.0,-4.10),
(50.15,-4.70),(50.3,-3.90),(50.45,-4.80),(50.6,-4.00),(50.75,-4.60),(50.9,-3.85),(51.05,-4.75),(51.2,-4.10),(51.35,-4.83),(51.5,-3.90),(51.65,-4.65),(51.8,-4.00),(51.95,-4.80),(52.1,-3.95),(52.25,-4.70),(52.4,-3.90),(52.55,-4.60),(52.7,-3.50),
(52.8,-4.20),(52.9,-2.80),(53.0,-3.60),(53.1,-2.40),(53.2,-3.20),(53.3,-2.00),(53.35,-1.64),(53.45,-2.60),(53.55,-3.40),(53.7,-2.60),(53.8,-3.96),(53.95,-2.50),(54.1,-1.80),(54.17,-1.30),(54.25,-2.20),(54.35,-3.50),
(54.5,-4.50),(54.65,-3.60),(54.8,-4.80),(54.95,-3.90),(55.1,-4.70),(55.25,-4.00),(55.4,-4.60),
(55.6,-4.55),(55.8,-4.50),(56.0,-4.55),(56.3,-4.40),(56.6,-4.35),(56.85,-4.20),(57.0,-3.80),(57.25,-2.98),(57.4,-3.40),
(57.55,-4.20),(57.7,-3.30),(57.85,-4.40),(58.0,-3.40),(58.15,-3.60),(58.3,-3.20),(58.45,-4.30),(58.6,-3.50),(58.75,-4.43),
(58.9,-3.20),(59.05,-4.80),(59.2,-3.40),(59.35,-4.60),(59.5,-3.15),(59.65,-4.90),(59.8,-3.50),(59.95,-4.70),(60.1,-3.30),(60.25,-4.95),(60.4,-3.60),(60.55,-4.80),(60.7,-3.25),(60.85,-4.60),(61.0,-3.40),(61.15,-4.90),(61.3,-3.20),(61.45,-4.70),(61.6,-3.50),(61.75,-4.85),(61.9,-3.30),(62.05,-4.60),(62.2,-3.15),(62.35,-4.80),(62.5,-3.40),(62.65,-4.70),(62.8,-3.25),(62.95,-4.90),(63.1,-3.50),(63.25,-4.60),(63.4,-3.20),(63.55,-4.80),(63.7,-3.40),(63.85,-4.70),(64.0,-3.30),(64.15,-4.85),(64.3,-3.20),(64.45,-4.60),
(64.55,-3.00),(64.65,-2.40),(64.75,-1.90),(64.8,-1.70),(64.9,-2.20),(65.0,-2.60),(65.1,-3.20),(65.2,-3.80),(65.27,-4.10)]

D_RATIO_LOG = [(12.97,0.90),(13.5,0.99),(14.0,1.07),(14.5,1.15),(14.86,1.20),(14.9,0.65),(14.96,0.83),(15.2,0.85),(15.6,0.87),(16.0,0.86),(16.4,0.88),(16.6,1.05),(16.8,1.35),(16.9,1.45),(17.0,1.40),(17.1,1.20),(17.2,1.30),(17.3,1.05),(17.4,1.15),(17.5,0.95),
(17.6,1.30),(17.7,0.90),(17.8,1.40),(17.9,0.85),(18.0,1.25),(18.1,0.95),(18.2,1.42),(18.3,0.82),(18.4,1.30),(18.5,1.00),(18.6,1.38),(18.7,0.85),(18.8,1.20),(18.9,0.90),(19.0,1.40),(19.1,0.80),(19.2,1.25),(19.3,0.95),(19.4,1.35),(19.5,0.85),(19.6,1.30),(19.7,0.90),(19.8,1.15),(19.9,0.80),(20.0,1.30),(20.1,0.85),(20.2,1.20),(20.3,0.78),(20.4,1.25),(20.5,0.85),(20.6,1.10),(20.7,0.75),(20.8,1.20),
(20.9,0.95),(21.0,1.50),(21.1,0.60),(21.2,1.40),(21.3,0.75),(21.4,1.55),(21.5,0.55),(21.6,1.30),(21.7,0.70),(21.8,1.45),(21.9,0.55),(22.0,1.20),(22.1,0.65),(22.2,1.35),(22.3,0.50),(22.4,1.10),(22.5,0.70),(22.6,1.40),(22.7,0.55),(22.8,1.20),(22.9,0.60),(23.0,1.30),
(23.1,0.55),(23.2,1.20),(23.3,0.50),(23.4,1.15),(23.5,0.60),(23.6,1.25),(23.7,0.45),(23.8,1.05),(23.9,0.55),(24.0,1.10),(24.1,0.45),(24.2,1.00),(24.3,0.50),(24.4,1.15),(24.5,0.40),(24.6,0.95),(24.7,0.45),(24.8,1.05),(24.9,0.35),(25.0,0.80),
(25.1,1.40),(25.2,0.50),(25.3,1.70),(25.4,0.40),(25.5,1.80),(25.6,0.60),(25.7,1.50),(25.8,0.35),(25.9,1.85),(26.0,0.45),(26.1,1.30),(26.2,0.30),
(26.3,0.85),(26.4,0.30),(26.5,0.90),(26.6,0.35),(26.7,0.80),(26.8,0.25),(26.9,0.75),(27.0,0.40),(27.1,1.00),(27.2,0.30),
(27.3,1.20),(27.4,0.35),(27.5,1.40),(27.6,0.50),(27.7,1.70),(27.8,0.40),(27.9,1.30),(28.0,0.25),(28.1,1.50),(28.2,0.45),(28.3,1.10),(28.4,0.30),(28.5,0.90),(28.6,0.20),(28.7,1.00),
(28.8,0.50),(28.9,1.60),(29.0,1.00),(29.1,2.10),(29.2,1.30),(29.3,2.40),(29.4,2.65),(29.5,1.20),(29.6,2.30),(29.7,0.80),(29.8,0.40),
(29.95,0.10),(30.1,0.35),(30.25,0.20),(30.4,0.45),(30.55,0.30),(30.7,0.50),(30.8,0.00),(30.9,0.60),(31.0,0.20),(31.1,0.55),(31.25,1.00),(31.4,1.80),(31.55,2.60),(31.65,1.60),(31.76,1.20),
(31.9,0.80),(32.0,1.00),(32.15,0.40),(32.3,0.90),(32.45,0.30),(32.6,0.70),(32.75,0.15),(32.9,0.80),(33.05,0.10),(33.2,0.50),(33.35,0.90),(33.5,1.20),(33.65,1.50),(33.8,1.93),(33.9,1.20),(34.0,0.70),(34.15,0.30),(34.3,0.60),(34.45,0.10),(34.6,0.40),(34.75,0.00),(34.9,0.70),(35.05,1.60),(35.15,2.30),(35.25,2.65),(35.35,1.50),(35.5,0.60),
(35.7,0.31),(35.9,0.20),(36.1,0.25),(36.3,0.10),(36.5,0.15),(36.7,0.05),(36.9,0.10),(37.1,0.00),(37.3,0.10),(37.45,0.20),(37.55,-0.24),(37.65,1.20),(37.75,0.90),
(37.9,1.00),(38.05,0.50),(38.2,0.90),(38.35,0.30),(38.5,0.80),(38.65,0.20),(38.8,0.60),(38.95,0.00),(39.1,0.40),(39.25,-0.05),(39.4,0.30),
(39.55,-0.10),(39.7,0.10),(39.85,-0.15),(40.0,0.05),(40.15,-0.05),(40.3,0.80),(40.4,2.35),(40.5,1.20),(40.6,0.60),(40.7,1.00),(40.8,2.15),(40.9,0.40),(41.0,-0.50),(41.15,-0.20),(41.3,-0.80),
(41.45,-0.40),(41.6,-1.00),(41.8,-0.50),(41.95,-0.90),(42.1,-0.40),(42.25,-0.80),(42.4,-0.20),(42.55,0.05),(42.65,-0.60),(42.8,-1.10),(42.95,-0.50),(43.1,-0.90),(43.25,-0.40),(43.4,-1.00),(43.55,-0.50),(43.7,-0.80),(43.85,-0.30),(44.0,0.30),(44.1,-0.40),(44.2,-1.50),(44.3,-2.89),(44.4,-1.80),(44.5,-1.70),(44.6,-0.90),(44.75,-0.30),(44.9,-0.10),(45.0,0.20),(45.1,-0.50),(45.2,-0.90),(45.3,-1.20),(45.4,-2.50),(45.45,-3.49),(45.55,-2.80),(45.7,-1.90),(45.95,-1.80),(46.15,-2.05),(46.3,-1.80),
(46.5,-1.60),(46.65,-1.90),(46.8,-1.55),(46.95,-1.85),(47.1,-1.50),(47.25,-1.90),(47.4,-1.45),(47.55,-1.80),
(47.7,-1.20),(47.85,-1.85),(48.0,-1.10),(48.15,-1.70),(48.3,-1.25),(48.45,-1.90),(48.6,-1.15),(48.75,-1.75),(48.9,-1.40),(49.05,-1.90),(49.2,-1.10),(49.35,-1.80),(49.5,-1.30),(49.65,-1.85),(49.8,-1.15),(49.95,-1.70),
(50.1,-0.90),(50.25,-1.50),(50.4,-0.84),(50.55,-1.40),(50.7,-1.00),(50.85,-1.60),(51.0,-0.90),(51.15,-1.30),(51.3,-0.85),(51.45,-1.55),(51.6,-1.00),(51.75,-1.45),(51.9,-0.90),(52.05,-1.50),(52.2,-0.95),(52.35,-1.40),(52.5,-0.85),(52.65,-1.20),
(52.8,-0.60),(52.9,-0.20),(53.0,0.30),(53.1,-0.10),(53.2,0.60),(53.3,1.28),(53.4,0.40),(53.5,-0.30),(53.6,-0.79),(53.7,-0.20),(53.8,-0.60),(53.95,0.10),(54.1,0.80),(54.23,1.25),(54.3,0.20),(54.45,-0.60),(54.6,-1.40),(54.75,-1.10),(54.9,-1.80),(55.05,-1.60),(55.1,-2.39),(55.2,-1.80),(55.3,-2.00),(55.4,-2.12),(55.6,-1.95),(56.2,-1.89),(56.5,-1.75),(56.85,-1.64),(57.05,-1.20),(57.35,-0.44),(57.5,-0.90),(57.65,-1.15),(57.8,-0.70),(58.0,-1.00),(58.15,-0.50),(58.3,-0.44),(58.5,-0.90),(58.7,-1.30),
(58.85,-0.40),(59.0,-1.80),(59.15,-0.50),(59.3,-1.60),(59.45,-0.30),(59.6,-1.90),(59.75,-0.60),(59.9,-1.50),(60.05,-0.20),(60.2,-1.99),(60.35,-0.45),(60.5,-1.70),(60.65,-0.15),(60.8,-1.40),(60.95,-0.35),(61.1,-1.85),(61.25,-0.10),(61.4,-1.60),(61.55,-0.40),(61.7,-1.90),(61.85,-0.20),(62.0,-1.50),(62.15,-0.50),(62.3,-1.80),(62.45,-0.10),(62.6,-1.60),(62.75,-0.30),(62.9,-1.95),(63.05,-0.20),(63.2,-1.50),(63.35,-0.45),(63.5,-1.85),(63.65,-0.15),(63.8,-1.60),(63.95,-0.30),(64.1,-1.70),(64.25,-0.40),(64.4,-1.20),
(64.5,-0.50),(64.6,0.00),(64.7,0.60),(64.8,1.05),(64.9,0.40),(65.0,0.20),(65.1,0.15),(65.2,-0.50),(65.27,-1.14),(65.7,-1.14),(65.85,-1.30),(66.0,-1.49),(66.2,-1.35),(66.4,-1.25),(66.6,-1.17)]

EQUALITY_LINE = [(0.0, 0.0), (70.0, 0.0)]  # t_KH/t_acc = 10^0

X_TICKS = [0, 10, 20, 30, 40, 50, 60, 70]
MASS_TICKS_A = [0, 5, 10, 15, 20, 25, 30, 35]
MASS_TICKS_C = [0.0, 2.5, 5.0, 7.5, 10.0, 12.5, 15.0, 17.5, 20.0]


# ---------------- helpers ----------------
def unzip(pairs):
    return [p[0] for p in pairs], [p[1] for p in pairs]


def unzip_log(pairs):
    x, ly = unzip(pairs)
    return x, (10.0 ** np.asarray(ly, dtype=float)).tolist()


W, H = 1800, 1950
FONT = "DejaVu Sans"


def PX(px):
    return px / W


def PY(py):
    return 1 - py / H


BLUE = "#0000ff"
RED = "#ff0000"
RED_W = 4.0

fig = go.Figure()

# Panel (a)
x, y = unzip_log(A_TKH_LOG)
fig.add_trace(go.Scatter(x=x, y=y, xaxis="x", yaxis="y", mode="lines", name="Kelvin-Helmholtz timescale",
                         line=dict(color=BLUE, width=6.5)))
x, y = unzip_log(A_TACC_LOG)
fig.add_trace(go.Scatter(x=x, y=y, xaxis="x", yaxis="y", mode="lines", name="Accretion timescale",
                         line=dict(color=RED, width=1.8, dash="7px,3px")))
x, y = unzip(A_MASS)
fig.add_trace(go.Scatter(x=x, y=y, xaxis="x", yaxis="y2", mode="lines", name="Mass",
                         line=dict(color="black", width=1.2)))

# Panel (b)
x, y = unzip_log(B_RATE_LOG)
fig.add_trace(go.Scatter(x=x, y=y, xaxis="x2", yaxis="y3", mode="lines", name="Variable accretion rate with bursts",
                         line=dict(color=RED, width=RED_W)))
x, y = unzip_log(B_RATIO_LOG)
fig.add_trace(go.Scatter(x=x, y=y, xaxis="x2", yaxis="y4", mode="lines", name="t_KH/t_acc",
                         line=dict(color="black", width=1.2)))
x, y = unzip_log(EQUALITY_LINE)
fig.add_trace(go.Scatter(x=x, y=y, xaxis="x2", yaxis="y4", mode="lines", name="t_KH = t_acc",
                         line=dict(color="black", width=2.2, dash="dot")))

# Panel (c)
x, y = unzip_log(C_TKH_LOG)
fig.add_trace(go.Scatter(x=x, y=y, xaxis="x3", yaxis="y5", mode="lines", name="Kelvin-Helmholtz timescale",
                         line=dict(color=BLUE, width=6.5)))
x, y = unzip_log(C_TACC_LOG)
fig.add_trace(go.Scatter(x=x, y=y, xaxis="x3", yaxis="y5", mode="lines", name="Accretion timescale",
                         line=dict(color=RED, width=1.8, dash="7px,3px")))
x, y = unzip(C_MASS)
fig.add_trace(go.Scatter(x=x, y=y, xaxis="x3", yaxis="y6", mode="lines", name="Mass",
                         line=dict(color="black", width=1.2)))

# Panel (d)
x, y = unzip_log(D_RATE_LOG)
fig.add_trace(go.Scatter(x=x, y=y, xaxis="x4", yaxis="y7", mode="lines", name="Variable accretion rate with bursts",
                         line=dict(color=RED, width=RED_W)))
x, y = unzip_log(D_RATIO_LOG)
fig.add_trace(go.Scatter(x=x, y=y, xaxis="x4", yaxis="y8", mode="lines", name="t_KH/t_acc",
                         line=dict(color="black", width=1.2)))
x, y = unzip_log(EQUALITY_LINE)
fig.add_trace(go.Scatter(x=x, y=y, xaxis="x4", yaxis="y8", mode="lines", name="t_KH = t_acc",
                         line=dict(color="black", width=2.2, dash="dot")))

# ---------------- axes ----------------
XD = [PX(147), PX(1667)]
DOM = {
    "a": [PY(507), PY(47)],
    "b": [PY(968), PY(507)],
    "c": [PY(1428), PY(968)],
    "d": [PY(1888), PY(1428)],
}
TICKFONT = dict(family=FONT, size=22, color="black")


def sup(n):
    s = str(n).replace("-", "\u2212")
    return "10<sup>%s</sup>" % s


def log_left(dom, lo, hi, anchor):
    vals = [10.0 ** k for k in range(lo, hi + 1)]
    minor = [m * 10.0 ** k for k in range(lo, hi) for m in range(2, 10)]
    return dict(type="log", range=[lo, hi], domain=dom, anchor=anchor, side="left",
                showline=True, linecolor="black", linewidth=2, mirror=True,
                ticks="outside", ticklen=7, tickwidth=1.5, tickcolor="black",
                tickmode="array", tickvals=vals, ticktext=[sup(k) for k in range(lo, hi + 1)],
                minor=dict(ticks="outside", ticklen=4, tickwidth=1, tickcolor="black",
                           tickmode="array", tickvals=minor, showgrid=False),
                showgrid=False, zeroline=False, tickfont=TICKFONT)


def log_right(over, rng, klo, khi, anchor):
    vals = [10.0 ** k for k in range(klo, khi + 1)]
    minor = [m * 10.0 ** k for k in range(klo - 1, khi + 1) for m in range(2, 10)]
    return dict(type="log", range=rng, overlaying=over, anchor=anchor, side="right",
                showline=False, ticks="outside", ticklen=7, tickwidth=1.5, tickcolor="black",
                tickmode="array", tickvals=vals, ticktext=[sup(k) for k in range(klo, khi + 1)],
                minor=dict(ticks="outside", ticklen=4, tickwidth=1, tickcolor="black",
                           tickmode="array", tickvals=minor, showgrid=False),
                showgrid=False, zeroline=False, tickfont=TICKFONT)


def lin_right(over, rng, vals, fmt, anchor):
    return dict(type="linear", range=rng, overlaying=over, anchor=anchor, side="right",
                showline=False, ticks="outside", ticklen=7, tickwidth=1.5, tickcolor="black",
                tickmode="array", tickvals=vals, ticktext=[fmt % v for v in vals],
                showgrid=False, zeroline=False, tickfont=TICKFONT)


def xax(anchor, inside, labels):
    return dict(range=[0, 70], domain=XD, anchor=anchor, showline=True, linecolor="black", linewidth=2,
                mirror=True, ticks="inside" if inside else "outside", ticklen=7, tickwidth=1.5,
                tickcolor="black", tickmode="array", tickvals=X_TICKS,
                showticklabels=labels, showgrid=False, zeroline=False, tickfont=TICKFONT)


layout = dict(
    width=W, height=H, margin=dict(l=0, r=0, t=0, b=0),
    paper_bgcolor="white", plot_bgcolor="white", showlegend=False,
    font=dict(family=FONT, color="black"),
    xaxis=xax("y", True, False),
    xaxis2=xax("y3", True, False),
    xaxis3=xax("y5", True, False),
    xaxis4=xax("y7", False, True),
    yaxis=log_left(DOM["a"], 1, 7, "x"),
    yaxis2=lin_right("y", [-1.63, 36.49], MASS_TICKS_A, "%d", "x"),
    yaxis3=log_left(DOM["b"], -7, 1, "x2"),
    yaxis4=log_right("y3", [-4.31, 3.0], -4, 2, "x2"),
    yaxis5=log_left(DOM["c"], 1, 7, "x3"),
    yaxis6=lin_right("y5", [-0.94, 21.04], MASS_TICKS_C, "%.1f", "x3"),
    yaxis7=log_left(DOM["d"], -7, 1, "x4"),
    yaxis8=log_right("y7", [-3.92, 2.97], -3, 2, "x4"),
)
fig.update_layout(**layout)

# ---------------- annotations ----------------
ann = []


def text(px, py, s, size, xanchor="center", angle=0):
    ann.append(dict(x=PX(px), y=PY(py), xref="paper", yref="paper", text=s, showarrow=False,
                    xanchor=xanchor, yanchor="middle", textangle=angle,
                    font=dict(family=FONT, size=size, color="black")))


for lab, yy in [("(a)", 94), ("(b)", 556), ("(c)", 1013), ("(d)", 1477)]:
    text(225, yy, lab, 31)

MSUN = "M<sub>\u2299</sub>"
text(1236, 461, "M<sub>c</sub> = 100" + MSUN, 28, "left")
text(1236, 901, "M<sub>c</sub> = 100" + MSUN, 28, "left")
text(1236, 1381, "M<sub>c</sub> = 60" + MSUN, 28, "left")
text(1236, 1817, "M<sub>c</sub> = 60" + MSUN, 28, "left")

TKH = "<i>t</i><sub>KH</sub>"
TACC = "<i>t</i><sub>acc</sub>"
text(1453, 659, TKH + " = " + TACC, 28, "left")
text(192, 1588, TKH + " = " + TACC, 28, "left")

# axis titles
TITLE = 34
text(70, 278, "Timescales (kyr)", TITLE, angle=-90)
text(77, 1200, "Timescales (kyr)", TITLE, angle=-90)
ACC = "Accretion rate (" + MSUN + " <i>yr</i><sup>\u22121</sup>)"
text(56, 739, ACC, TITLE, angle=-90)
text(61, 1657, ACC, TITLE, angle=-90)
text(1733, 278, "Protostellar mass (" + MSUN + ")", TITLE, angle=-90)
text(1753, 1200, "Protostellar mass (" + MSUN + ")", TITLE, angle=-90)
text(1758, 738, TKH + "/" + TACC, TITLE, angle=-90)
text(1758, 1656, TKH + "/" + TACC, TITLE, angle=-90)

# ---------------- legends (drawn as boxes with samples and text) ----------------
shapes = []


def box(x0, y0, x1, y1):
    shapes.append(dict(type="rect", xref="paper", yref="paper", x0=PX(x0), x1=PX(x1), y0=PY(y1), y1=PY(y0),
                       fillcolor="rgba(255,255,255,0.8)", line=dict(color="#cccccc", width=2), layer="above"))


def sample(x0, x1, y, color, width, dash="solid"):
    shapes.append(dict(type="line", xref="paper", yref="paper", x0=PX(x0), x1=PX(x1), y0=PY(y), y1=PY(y),
                       line=dict(color=color, width=width, dash=dash), layer="above"))


LEG_BIG = 33.5
LEG_SMALL = 30
# (a)
box(164, 381, 796, 492)
sample(175, 246, 408, BLUE, 6.5)
text(271, 410, "Kelvin-Helmholtz timescale " + TKH, LEG_BIG, "left")
sample(175, 246, 458, RED, 1.8, "7px,3px")
text(271, 460, "Accretion timescale " + TACC, LEG_BIG, "left")
box(1476, 442, 1654, 493)
sample(1487, 1545, 466, "black", 1.2)
text(1571, 467, "Mass", LEG_SMALL, "left")
# (b)
box(164, 893, 861, 952)
sample(176, 246, 919, RED, RED_W)
text(271, 921, "Variable accretion rate with bursts", LEG_BIG, "left")
box(1449, 900, 1654, 954)
sample(1461, 1520, 925, "black", 1.2)
text(1544, 927, TKH + "/" + TACC, LEG_SMALL, "left")
# (c)
box(164, 1302, 796, 1412)
sample(175, 246, 1329, BLUE, 6.5)
text(271, 1331, "Kelvin-Helmholtz timescale " + TKH, LEG_BIG, "left")
sample(175, 246, 1379, RED, 1.8, "7px,3px")
text(271, 1381, "Accretion timescale " + TACC, LEG_BIG, "left")
box(1476, 1362, 1654, 1414)
sample(1487, 1545, 1386, "black", 1.2)
text(1571, 1387, "Mass", LEG_SMALL, "left")
# (d)
box(164, 1808, 861, 1866)
sample(176, 246, 1834, RED, RED_W)
text(271, 1836, "Variable accretion rate with bursts", LEG_BIG, "left")
box(1449, 1816, 1654, 1867)
sample(1461, 1520, 1840, "black", 1.2)
text(1544, 1842, TKH + "/" + TACC, LEG_SMALL, "left")

fig.update_layout(annotations=ann, shapes=shapes)
fig.write_html("out.html")
